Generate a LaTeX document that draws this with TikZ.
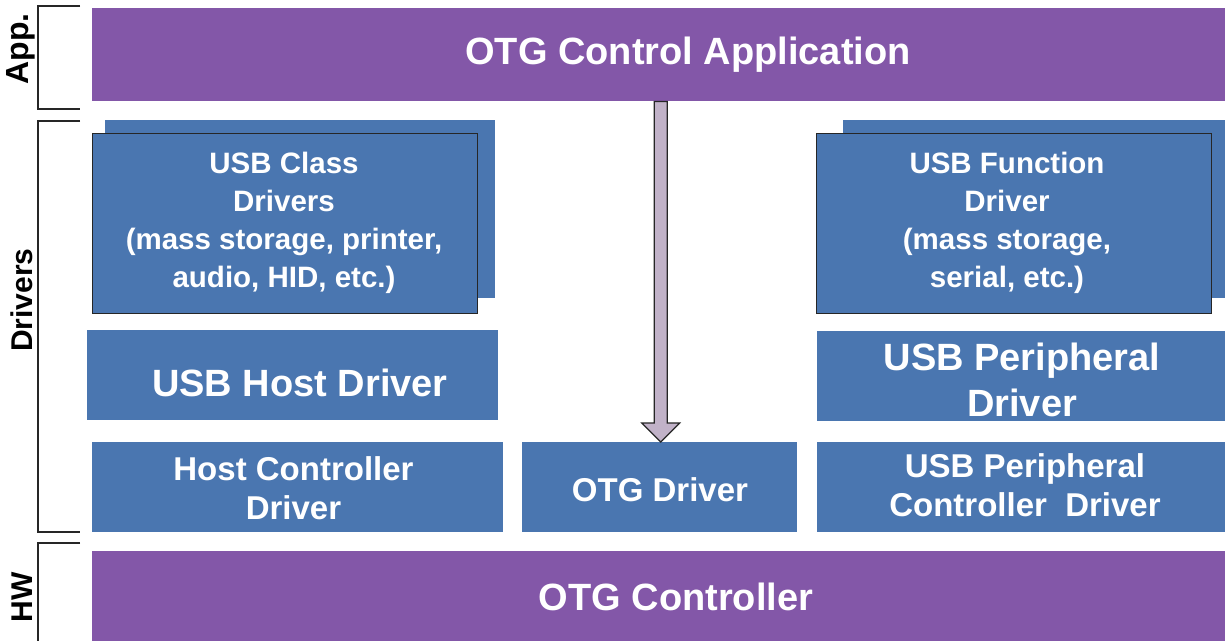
\documentclass[tikz,border=0pt]{standalone}
\usepackage{fontspec}
\setmainfont{Liberation Sans}
\usetikzlibrary{calc}
\definecolor{otgpurple}{RGB}{131,87,168}
\definecolor{otgblue}{RGB}{74,118,176}
\definecolor{arrowfill}{RGB}{193,178,200}
\begin{document}
\begin{tikzpicture}[x=1pt,y=-1pt,
  bar/.style={fill=otgpurple, draw=none, inner sep=0pt, anchor=north west},
  blk/.style={fill=otgblue, draw=none, inner sep=0pt, anchor=north west},
  frontblk/.style={fill=otgblue, draw=black!85, line width=1.3pt, inner sep=0pt, anchor=north west},
  txtbig/.style={text=white, align=center, inner sep=0pt, font=\fontsize{38}{46}\selectfont\bfseries},
  txtmid/.style={text=white, align=center, inner sep=0pt, font=\fontsize{33}{39}\selectfont\bfseries},
  txtsmall/.style={text=white, align=center, inner sep=0pt, font=\fontsize{29.5}{38}\selectfont\bfseries},
  lab/.style={text=black, rotate=90, inner sep=0pt, font=\fontsize{30}{36}\selectfont\bfseries},
  brk/.style={draw=black!85, line width=1.3pt},
  blockarrow/.style={fill=arrowfill, draw=black!85, line width=1.2pt, line join=miter}]
\useasboundingbox (0,0) rectangle (1225,640);
\fill[white] (0,0) rectangle (1225,640);

% layer brackets
\draw[brk] (80,6) -- (38,6) -- (38,109) -- (80,109);
\draw[brk] (80,121) -- (38,121) -- (38,532) -- (80,532);
\draw[brk] (80,543) -- (38,543) -- (38,645);
\node[lab, font=\fontsize{32}{36}\selectfont\bfseries] (labApp) at (21,49) {App.};
\node[lab] (labDrv) at (22,300) {Drivers};
\node[lab] (labHW) at (22,597) {HW};

% application bar
\node[bar, minimum width=1145pt, minimum height=93pt] (app) at (92,8) {};
\node[txtbig] (appT) at (688,55) {OTG Control Application};

% controller bar
\node[bar, minimum width=1145pt, minimum height=95pt] (ctrl) at (92,551) {};
\node[txtbig] (ctrlT) at (676,597) {OTG Controller};

% USB class drivers (stacked)
\node[blk, minimum width=390pt, minimum height=178pt] (classBack) at (105,120) {};
\node[frontblk, minimum width=385pt, minimum height=180pt] (classFront) at (92,133) {};
\node[txtsmall] (classT) at (284,223) {USB Class\\Drivers\\(mass storage, printer,\\audio, HID, etc.)};

% USB function driver (stacked)
\node[blk, minimum width=400pt, minimum height=178pt] (funcBack) at (843,120) {};
\node[frontblk, minimum width=395pt, minimum height=180pt] (funcFront) at (816,133) {};
\node[txtsmall] (funcT) at (1007,223) {USB Function\\Driver\\(mass storage,\\serial, etc.)};

% host driver
\node[blk, minimum width=411pt, minimum height=90pt] (hostDrv) at (87,330) {};
\node[txtbig] (hostDrvT) at (300,383) {USB Host Driver};

% peripheral driver
\node[blk, minimum width=420pt, minimum height=90pt] (perDrv) at (817,331) {};
\node[txtbig] (perDrvT) at (1022,380) {USB Peripheral\\Driver};

% host controller driver
\node[blk, minimum width=411pt, minimum height=90pt] (hcd) at (92,442) {};
\node[txtmid] (hcdT) at (293.5,488) {Host Controller\\Driver};

% OTG driver
\node[blk, minimum width=275pt, minimum height=90pt] (otgd) at (522,442) {};
\node[txtmid] (otgdT) at (660,490) {OTG Driver};

% peripheral controller driver
\node[blk, minimum width=420pt, minimum height=90pt] (pcd) at (817,442) {};
\node[txtmid] (pcdT) at (1025,485) {USB Peripheral\\Controller\ \ Driver};

% block arrow from application to OTG driver
\path ($(otgd.north west)!0.5!(otgd.north east)+(1,0)$) coordinate (tip);
\path (app.south -| tip) coordinate (tail);
\draw[blockarrow] (tip) -- ++(-19,-19) -- ++(12.5,0) -- ($(tail)+(-6.5,0)$)
  -- ($(tail)+(6.5,0)$) -- ($(tip)+(6.5,-19)$) -- ($(tip)+(19,-19)$) -- cycle;
\end{tikzpicture}
\end{document}
